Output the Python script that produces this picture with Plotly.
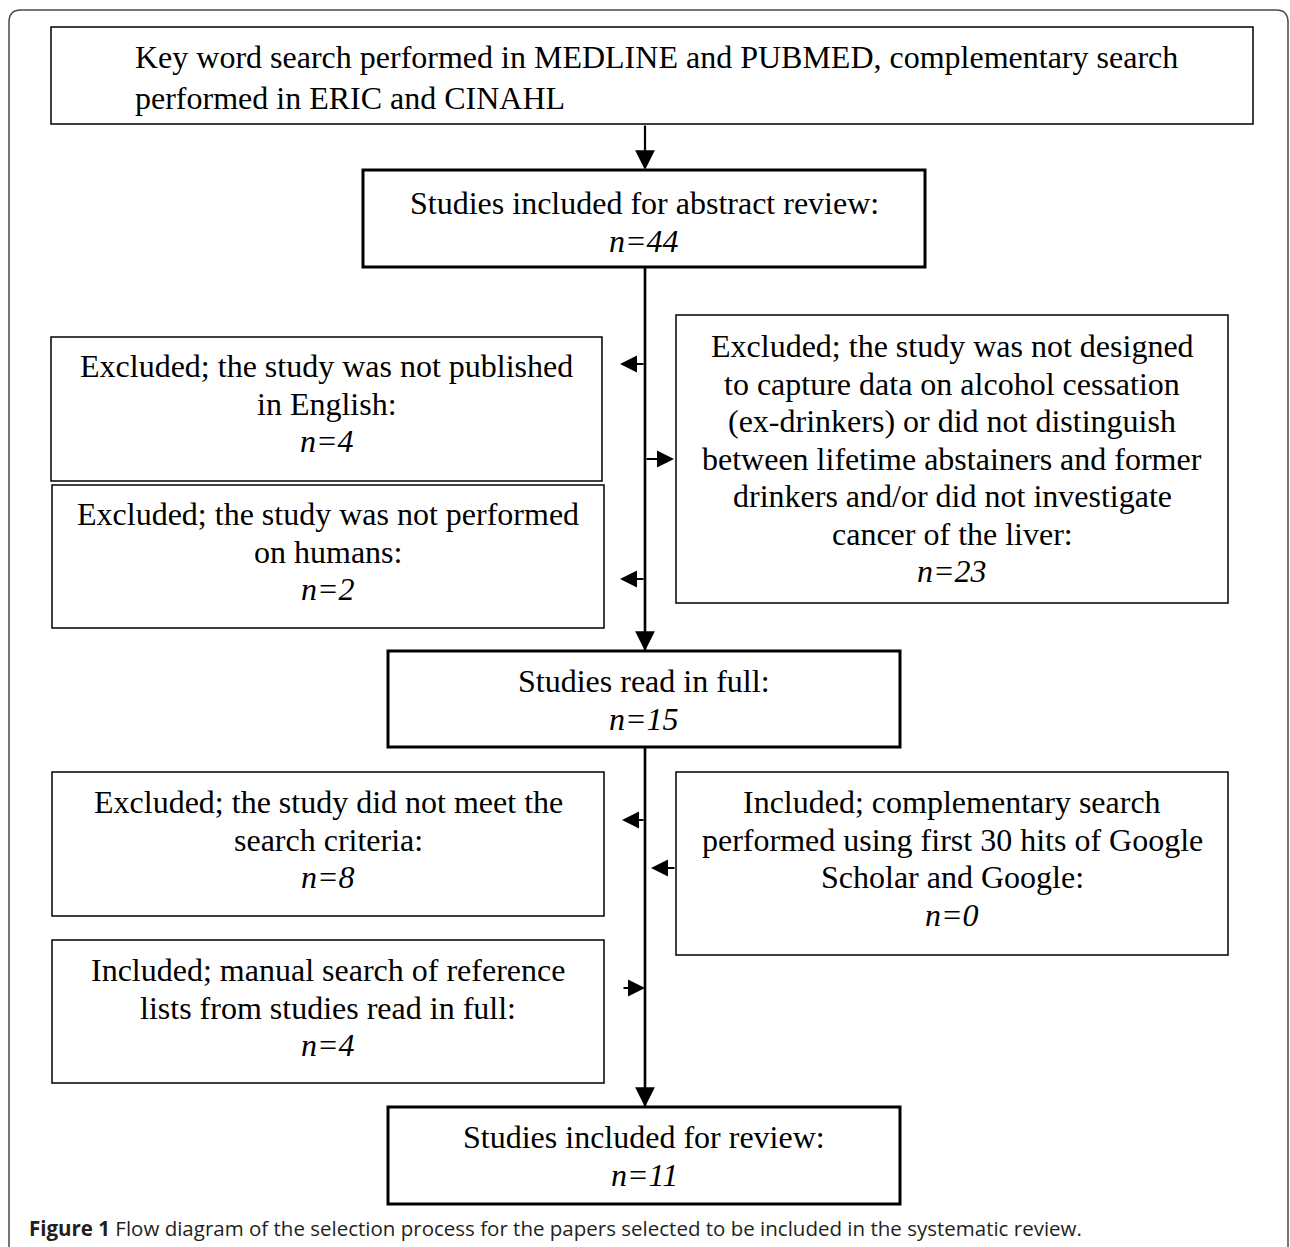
import plotly.graph_objects as go

W, H = 1290, 1247

# ---------------- data ----------------
search_lines = ["Key word search performed in MEDLINE and PUBMED, complementary search",
                "performed in ERIC and CINAHL"]
stage_labels = ["Studies included for abstract review:",
                "Studies read in full:",
                "Studies included for review:"]
stage_counts = [44, 15, 11]
side_labels = [
    ["Excluded; the study was not published", "in English:"],
    ["Excluded; the study was not performed", "on humans:"],
    ["Excluded; the study was not designed", "to capture data on alcohol cessation",
     "(ex-drinkers) or did not distinguish", "between lifetime abstainers and former",
     "drinkers and/or did not investigate", "cancer of the liver:"],
    ["Excluded; the study did not meet the", "search criteria:"],
    ["Included; complementary search", "performed using first 30 hits of Google",
     "Scholar and Google:"],
    ["Included; manual search of reference", "lists from studies read in full:"],
]
side_counts = [4, 2, 23, 8, 0, 4]
caption_bold = "Figure 1"
caption_text = "Flow diagram of the selection process for the papers selected to be included in the systematic review."

# ---------------- layout (positions, pixels) ----------------
search_box = (51, 1253, 27, 124)
search_text_x = 133
search_text_y = [57, 98]
stage_boxes = [(363, 925, 170, 267), (388, 900, 651, 747), (388, 900, 1107, 1204)]
stage_first_y = [203, 681, 1137]
side_boxes = [(51, 602, 337, 481), (52, 604, 485, 628), (676, 1228, 315, 603),
              (52, 604, 772, 916), (676, 1228, 772, 955), (52, 604, 940, 1083)]
side_first_y = [366, 514, 346, 802, 802, 970]
LINE_H = 37.5
MAIN_X = 645
# arrows: (tip_x, tip_y, tail_x, tail_y, big)
arrows = [
    (MAIN_X, 170, MAIN_X, 124, True),
    (MAIN_X, 651, MAIN_X, 267, True),
    (MAIN_X, 1107, MAIN_X, 747, True),
    (620, 364, MAIN_X, 364, False),
    (620, 579, MAIN_X, 579, False),
    (674, 459, MAIN_X, 459, False),
    (622, 820, MAIN_X, 820, False),
    (MAIN_X + 6, 868, 676, 868, False),
    (MAIN_X, 988, 622, 988, False),
]

SERIF = "Liberation Serif, Times New Roman, serif"
TXT_SIZE = 32

fig = go.Figure()
shapes = []
annotations = []

# outer rounded frame
shapes.append(dict(type="path", xref="x", yref="y",
                   path="M 9,1262 L 9,22 Q 9,10 21,10 L 1276,10 Q 1288,10 1288,22 L 1288,1262",
                   line=dict(color="#4a4a4a", width=1.5)))


def rect(b, w):
    shapes.append(dict(type="rect", xref="x", yref="y", x0=b[0], x1=b[1], y0=b[2], y1=b[3],
                       line=dict(color="black", width=w), fillcolor="rgba(0,0,0,0)"))


def text(x, y, s, xanchor="center"):
    annotations.append(dict(x=x, y=y, xref="x", yref="y", text=s, showarrow=False,
                            xanchor=xanchor, yanchor="middle",
                            font=dict(family=SERIF, size=TXT_SIZE, color="black")))


# search box
rect(search_box, 1.5)
for ln, y in zip(search_lines, search_text_y):
    text(search_text_x, y, ln, xanchor="left")

# stage boxes
for b, lab, n, y0 in zip(stage_boxes, stage_labels, stage_counts, stage_first_y):
    rect(b, 3)
    cx = (b[0] + b[1]) / 2
    text(cx, y0, lab)
    text(cx, y0 + LINE_H, f"<i>n={n}</i>")

# side boxes
for b, labs, n, y0 in zip(side_boxes, side_labels, side_counts, side_first_y):
    rect(b, 1.5)
    cx = (b[0] + b[1]) / 2
    for i, ln in enumerate(labs):
        text(cx, y0 + i * LINE_H, ln)
    text(cx, y0 + len(labs) * LINE_H, f"<i>n={n}</i>")

# main vertical connector lines
for y0, y1 in [(267, 651), (747, 1107)]:
    shapes.append(dict(type="line", xref="x", yref="y", x0=MAIN_X, x1=MAIN_X, y0=y0, y1=y1,
                       line=dict(color="black", width=2.5)))

# arrows
for tx, ty, ax, ay, big in arrows:
    annotations.append(dict(x=tx, y=ty, ax=ax, ay=ay, xref="x", yref="y", axref="x", ayref="y",
                            text="", showarrow=True, arrowhead=2,
                            arrowsize=1.8 if big else 1.7, arrowwidth=2.2 if big else 2,
                            arrowcolor="black", standoff=0, startstandoff=0))

# caption
annotations.append(dict(x=27, y=1228, xref="x", yref="y", showarrow=False,
                        xanchor="left", yanchor="middle",
                        text=f"<b>{caption_bold}</b> {caption_text}",
                        font=dict(family="Open Sans, Noto Sans, sans-serif", size=20.5, color="#231f20")))

fig.update_layout(
    width=W, height=H,
    margin=dict(l=0, r=0, t=0, b=0),
    paper_bgcolor="white", plot_bgcolor="white",
    xaxis=dict(range=[0, W], visible=False, fixedrange=True),
    yaxis=dict(range=[H, 0], visible=False, fixedrange=True),
    shapes=shapes, annotations=annotations, showlegend=False,
)

fig.write_html("out.html", config={"displayModeBar": False},
               post_script="document.body.style.margin='0';")
